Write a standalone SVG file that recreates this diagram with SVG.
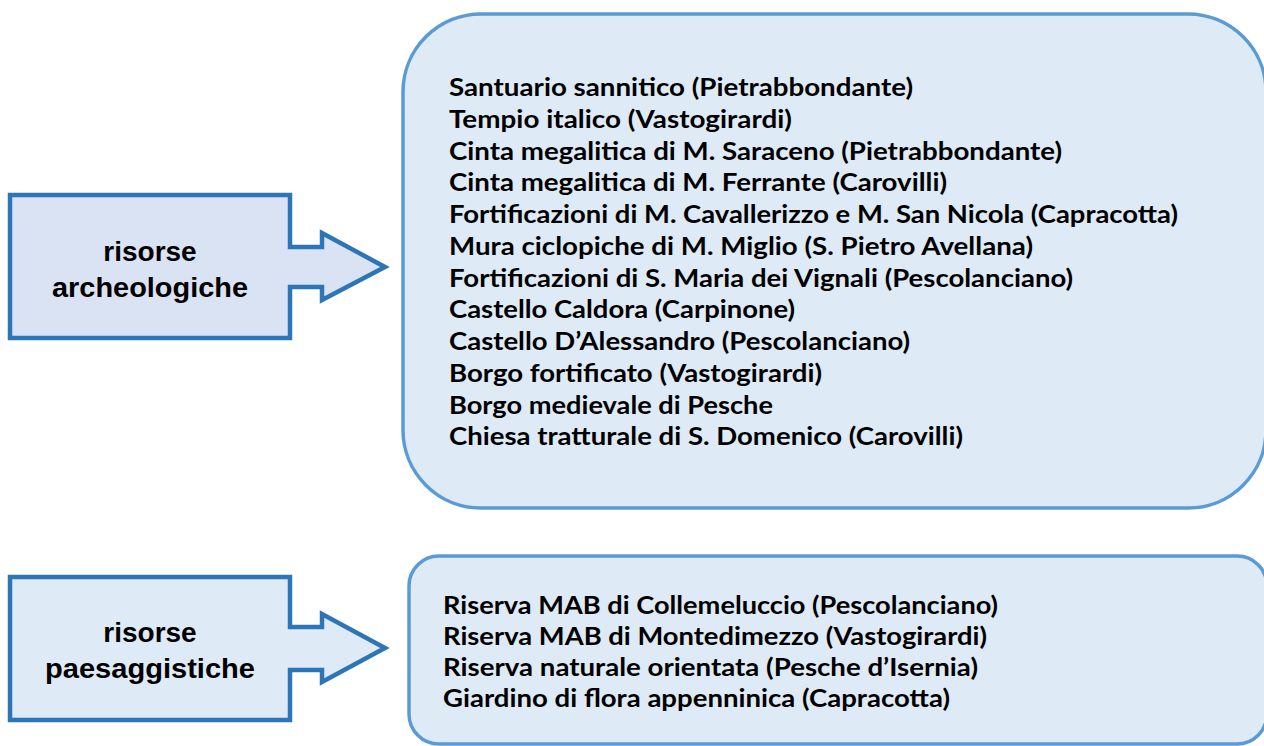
<svg xmlns="http://www.w3.org/2000/svg" width="1264" height="746" viewBox="0 0 1264 746">
<style>
.arrow{fill:#DAE3F3;stroke:#2E75B6;stroke-width:4.5;stroke-linejoin:miter}
.arrow2{fill:#DEEAF6;stroke:#2E75B6;stroke-width:4.5;stroke-linejoin:miter}
.box{fill:#DEEAF6;stroke:#5B9BD5;stroke-width:3.5}
.lbl{font-family:Arial,"Liberation Sans",sans-serif;font-weight:bold;font-size:28px;fill:#000;text-anchor:middle}
.item{font-family:Lato,"Liberation Sans",sans-serif;font-weight:bold;font-size:25.5px;fill:#000}
</style>
<rect width="1264" height="746" fill="#FFFFFF"/>
<g id="arrow-archeologiche">
<path class="arrow" d="M10,195 H290 V247 H322 V233 L385,267 L322,300 V287 H290 V338 H10 Z"/>
<text class="lbl" x="150" y="261">risorse</text>
<text class="lbl" x="150" y="297" textLength="196" lengthAdjust="spacingAndGlyphs">archeologiche</text>
</g>
<g id="arrow-paesaggistiche">
<path class="arrow2" d="M10,577 H290 V627 H322 V614 L385,648 L322,682 V670 H290 V720 H10 Z"/>
<text class="lbl" x="150" y="642">risorse</text>
<text class="lbl" x="150" y="678" textLength="210" lengthAdjust="spacingAndGlyphs">paesaggistiche</text>
</g>
<g id="box-archeologiche">
<rect class="box" x="403" y="14" width="863" height="494" rx="78" ry="78"/>
<text class="item" x="449" y="96" textLength="464" lengthAdjust="spacingAndGlyphs">Santuario sannitico (Pietrabbondante)</text>
<text class="item" x="449" y="128" textLength="343" lengthAdjust="spacingAndGlyphs">Tempio italico (Vastogirardi)</text>
<text class="item" x="449" y="159.5" textLength="613" lengthAdjust="spacingAndGlyphs">Cinta megalitica di M. Saraceno (Pietrabbondante)</text>
<text class="item" x="449" y="191" textLength="498" lengthAdjust="spacingAndGlyphs">Cinta megalitica di M. Ferrante (Carovilli)</text>
<text class="item" x="449" y="223" textLength="729" lengthAdjust="spacingAndGlyphs">Fortificazioni di M. Cavallerizzo e M. San Nicola (Capracotta)</text>
<text class="item" x="449" y="255" textLength="584" lengthAdjust="spacingAndGlyphs">Mura ciclopiche di M. Miglio (S. Pietro Avellana)</text>
<text class="item" x="449" y="286.5" textLength="624" lengthAdjust="spacingAndGlyphs">Fortificazioni di S. Maria dei Vignali (Pescolanciano)</text>
<text class="item" x="449" y="318" textLength="346" lengthAdjust="spacingAndGlyphs">Castello Caldora (Carpinone)</text>
<text class="item" x="449" y="350" textLength="461" lengthAdjust="spacingAndGlyphs">Castello D’Alessandro (Pescolanciano)</text>
<text class="item" x="449" y="382" textLength="373" lengthAdjust="spacingAndGlyphs">Borgo fortificato (Vastogirardi)</text>
<text class="item" x="449" y="413.5" textLength="324" lengthAdjust="spacingAndGlyphs">Borgo medievale di Pesche</text>
<text class="item" x="449" y="445" textLength="514" lengthAdjust="spacingAndGlyphs">Chiesa tratturale di S. Domenico (Carovilli)</text>
</g>
<g id="box-paesaggistiche">
<rect class="box" x="409" y="556" width="858" height="188" rx="30" ry="30"/>
<text class="item" x="443" y="614" textLength="555" lengthAdjust="spacingAndGlyphs">Riserva MAB di Collemeluccio (Pescolanciano)</text>
<text class="item" x="443" y="645" textLength="544" lengthAdjust="spacingAndGlyphs">Riserva MAB di Montedimezzo (Vastogirardi)</text>
<text class="item" x="443" y="676" textLength="535" lengthAdjust="spacingAndGlyphs">Riserva naturale orientata (Pesche d’Isernia)</text>
<text class="item" x="443" y="707" textLength="507" lengthAdjust="spacingAndGlyphs">Giardino di flora appenninica (Capracotta)</text>
</g>
<g id="connectors"></g>
</svg>
